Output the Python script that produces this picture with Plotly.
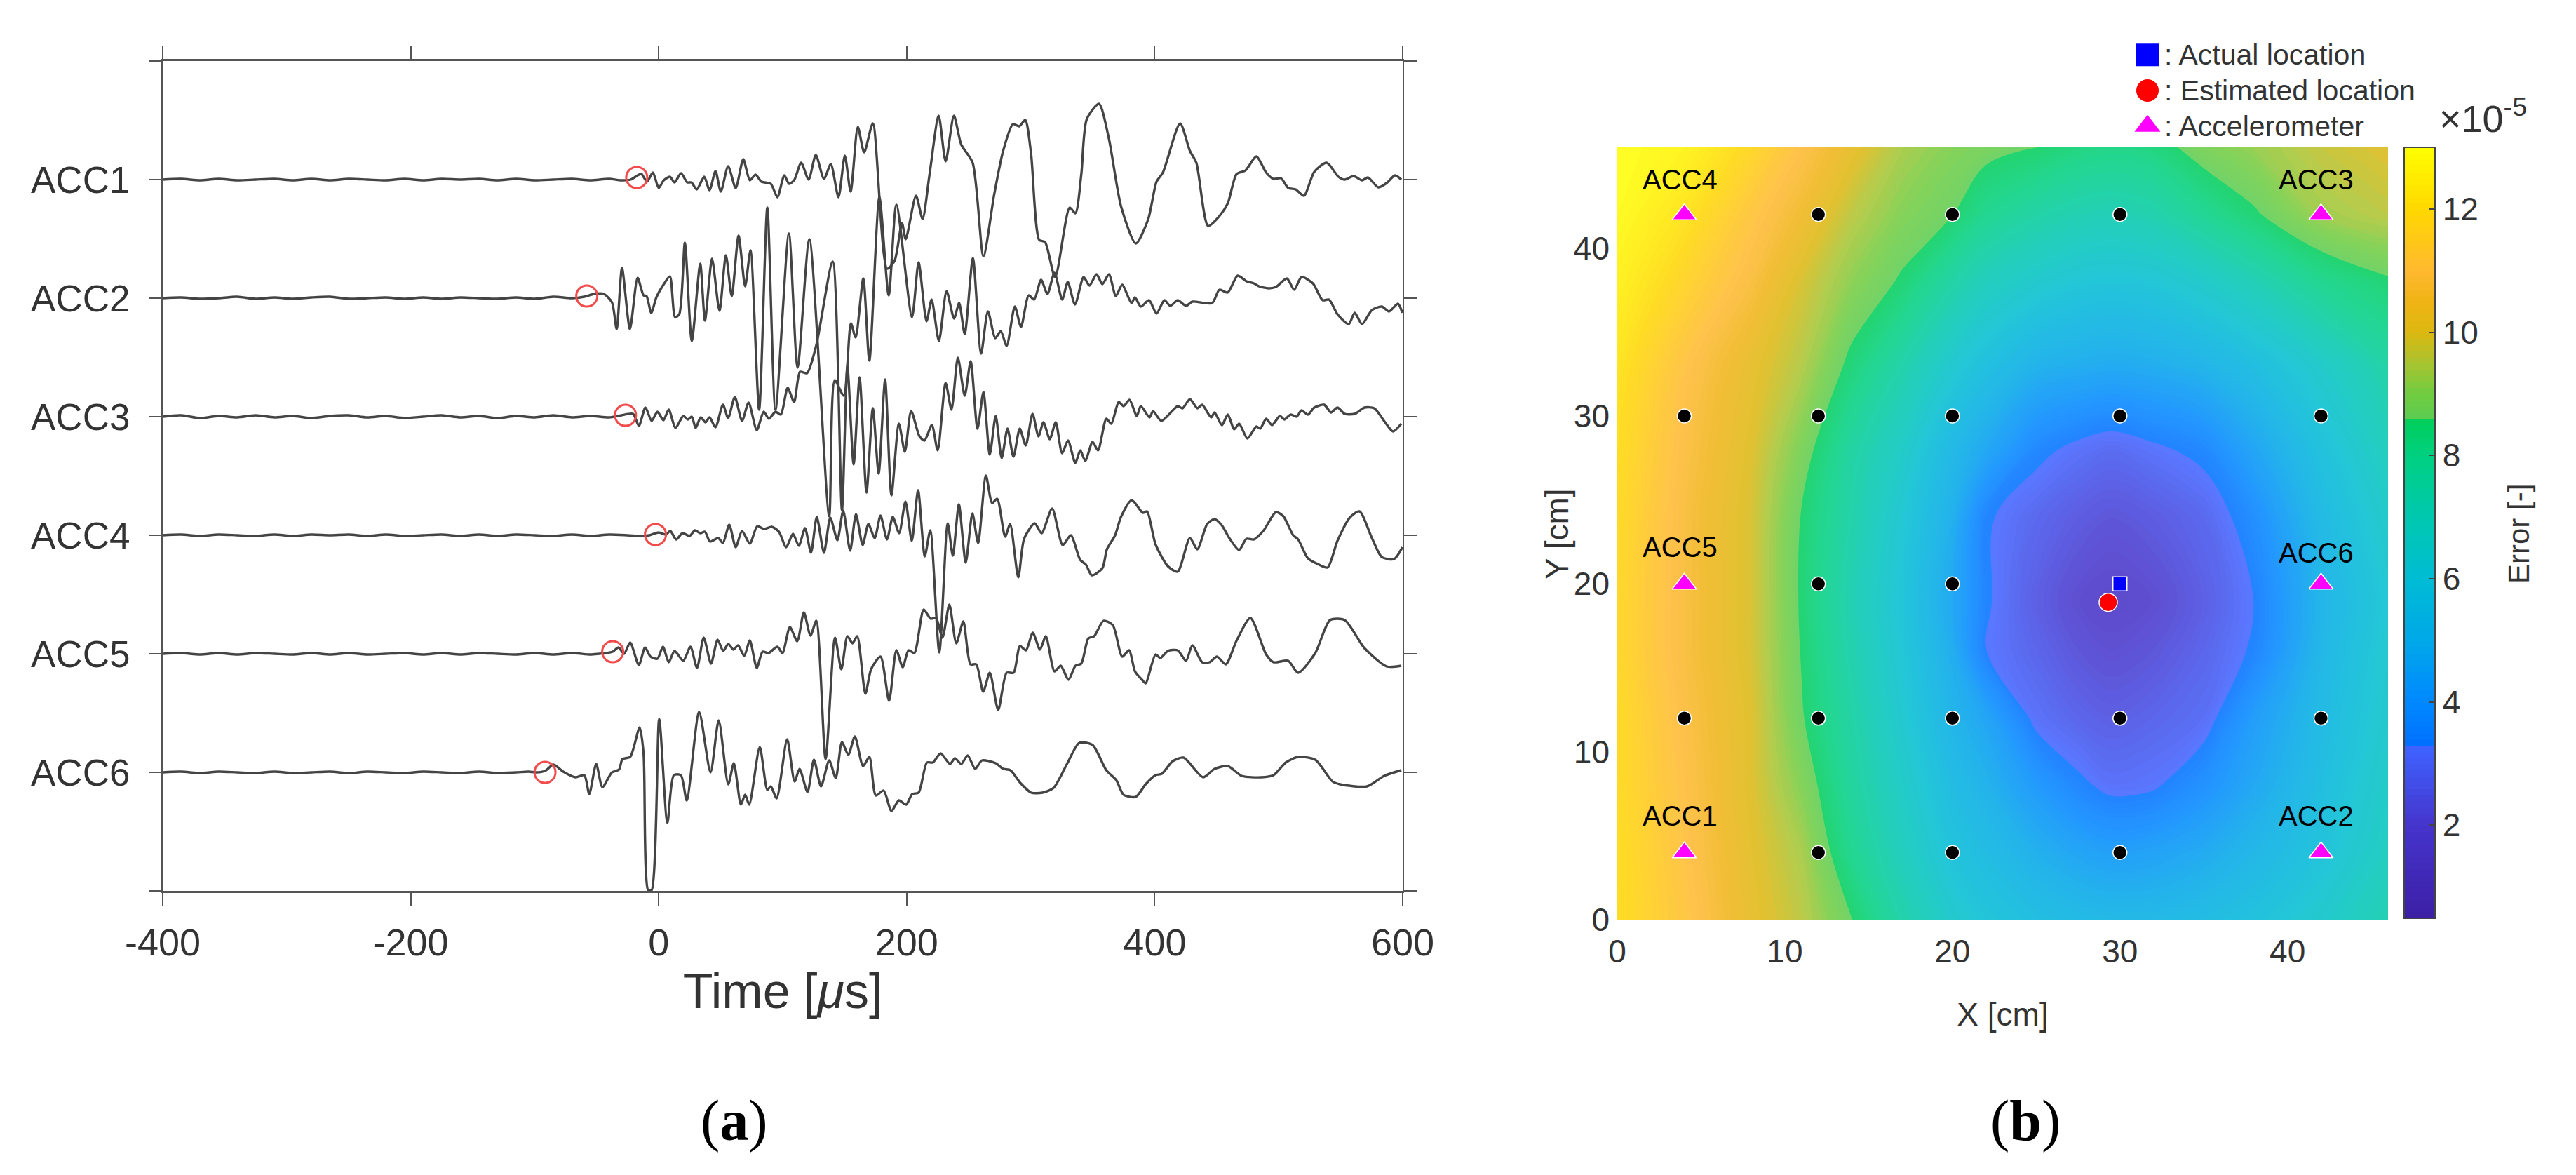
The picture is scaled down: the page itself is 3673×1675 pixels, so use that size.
import numpy as np
import plotly.graph_objects as go

W, H = 3673, 1675

# ---------- Panel (a): waveforms. Time in microseconds, amplitude in arbitrary units
# (trace spacing = 169 units)
sensor_names = ["ACC1", "ACC2", "ACC3", "ACC4", "ACC5", "ACC6"]
trace_offsets = [1014, 845, 676, 507, 338, 169]

acc1_t = [-400,-385,-370,-355,-340,-325,-310,-295,-280,-265,-250,-235,-220,-205,-190,-175,-160,-145,-130,-115,-100,-85,-70,-55,-40,-30,-22.6,-17,-14,-9.4,-4.7,0,4.1,9,12.8,18,23,26.4,30.7,36.7,41,45.8,50.1,56,62.1,68.2,73.5,78.1,82.9,90.4,95.7,101.3,105.1,109.2,114.9,120.9,126.7,133.3,138.8,145,150.1,154.8,160.6,165.7,172.7,184.1,190.2,196.2,199.2,207.5,212.8,218.4,225.8,231.4,238.1,244,253.2,261.9,270.6,277.8,285.7,290.8,295.6,300.3,306.9,311.6,319.7,331.4,336.1,340.8,345.2,355.1,363,373,384.8,394.7,401.5,406.6,420.5,428.4,433.6,443.1,452.2,458.9,466.1,473.2,482,489.9,495.8,501.8,507.7,513.7,520.4,528.7,538.7,548.2,553.3,560.5,567.2,572,580.3,587,593.8,598.9]
acc1_v = [0,1,-1,1,-1,0,1,-1,1,-1,1,0,-1,1,-1,1,0,1,-1,1,-1,0,1,-1,1,-1,0,6,8,-3,10,-12,-1,4,-4,9,-4,-4,-14,4,-15,12,-17,19,-12,29,-1,7,-3,-6,-25,6,-6,-1,24,0,35,1,22,-25,34,-17,75,39,80,-127,-116,-62,-85,-23,-56,7,91,26,91,50,24,-109,-21,41,79,76,85,37,-86,-89,-139,-40,-48,7,86,108,59,-39,-91,-57,-3,10,80,41,24,-66,-52,-34,8,13,33,10,1,2,-12,-14,-23,11,24,4,0,5,-1,3,-11,-5,6,0]

acc2_t = [-400,-385,-370,-355,-340,-325,-310,-295,-280,-265,-250,-235,-220,-205,-190,-175,-160,-145,-130,-115,-100,-85,-70,-60,-52,-44.3,-37.7,-33.9,-29.6,-23.2,-17,-12.2,-9.8,-6,-1.9,3.8,9,13.2,16.6,21.1,26.7,33.5,37.3,43,49,54.2,58.9,64.4,69.7,74,81,87.6,94.2,105,112,121.5,137.5,142,149.2,155,158.8,165,169.9,178,185.5,191.7,204.3,209.6,216,220.1,226,232.2,238.2,242.3,246.8,253.4,260,265.5,271.5,275.9,280.6,287.2,292.2,298.4,302.8,308.4,313.5,319.2,325.4,329.9,335.7,342.7,347.4,353.1,357.8,363.1,368.7,373.8,381.3,384.1,388.8,395.5,401.5,407.8,412.6,418.5,425.3,430.4,446.3,452.2,458.9,466.9,474,480,484,491.9,497.8,506.6,512.5,518.4,527.6,535.5,540.6,547.4,556.5,561.3,567.2,575.2,583.1,589,596.2,599.7]
acc2_v = [0,1,-1,0,2,-1,1,-1,1,2,-1,0,1,-1,1,-1,1,0,-1,1,-1,2,0,2,6,6,-6,-44,43,-44,29,4,3,-21,1,19,31,-27,-23,79,-61,49,-32,56,-18,61,3,89,17,68,-159,129,-159,92,-99,84,-311,-117,-139,-36,-56,28,-89,144,4,133,-27,51,-33,-2,-61,10,-29,-7,-51,57,-79,-19,-57,-47,-68,-12,-41,4,-2,26,6,36,-2,23,-9,30,18,34,20,34,3,19,-7,1,-12,-3,-22,-3,-11,-3,-11,-5,-7,12,8,32,24,21,17,14,16,28,12,30,21,-3,-2,-23,-37,-21,-37,-17,-12,-19,-8,-21]

acc3_t = [-400,-385,-370,-355,-340,-325,-310,-295,-280,-265,-250,-235,-220,-205,-190,-175,-160,-145,-130,-115,-100,-85,-70,-55,-40,-30,-20.7,-16,-10.7,-5.7,-1,3.8,8.1,13.6,19.8,23.5,26.7,29.8,33.9,37.7,41,45.8,51.8,56,61.4,67.2,72.5,79.1,84.7,88.9,94.2,98.5,104,109.2,114,119.6,127.1,140.3,147.8,152.2,157.2,162,167.6,172.7,177.4,182.6,187.7,193.7,198.5,203.6,210.3,214.3,220.3,225,231.4,236.1,241.3,246.8,251.6,257.1,261.9,267,271.8,276.6,281.3,286.1,291.2,296,301.5,306.3,310.3,315.4,320.2,325.3,330.1,336,340,344,349.9,354.3,361,365,371,374.9,379.7,385.6,388.8,395.9,398.7,405.4,418.5,422.5,428.4,434.4,438.3,445.5,448.3,454.2,459,464.1,468.1,474.8,482,485.1,489.9,494.6,501,504.6,509.7,514.5,518.4,523.6,528.7,536.7,542.2,547.4,553.3,561.3,569.2,577.1,585.8,592.2,598.9]
acc3_v = [0,2,-2,1,-1,2,-1,1,-2,1,2,-1,1,-2,0,2,-1,1,-2,1,-1,2,-1,1,-1,2,4,-13,13,-6,7,-5,10,-16,1,-4,0,-16,-1,-8,-1,-15,17,-2,28,-6,20,-19,7,-3,7,3,41,21,64,62,102,221,-133,72,-68,56,-108,12,-81,53,-112,-10,-50,8,-28,-34,-12,-48,48,10,84,30,79,-17,35,-54,1,-59,-17,-57,-17,-41,4,-28,-8,-32,-8,-52,-34,-66,-48,-63,-36,-48,-3,-10,21,15,24,1,15,-1,8,-6,15,12,25,12,17,-1,6,-12,3,-18,-10,-31,-14,-17,-3,-12,1,-4,3,0,9,3,13,17,6,13,4,4,13,12,-8,-21,-10]

acc4_t = [-400,-385,-370,-355,-340,-325,-310,-295,-280,-265,-250,-235,-220,-205,-190,-175,-160,-145,-130,-115,-100,-85,-70,-55,-40,-25,-15,-7.5,0,5.6,9.4,14.1,19.2,24.9,29.2,33.5,37.3,41.4,48,51.8,56.9,62.1,67.2,73.5,79.5,84.7,91.3,97,102.8,108.3,113,118,122.8,127.5,133.3,138.4,144.1,148.8,154.4,159.1,164.5,169.1,174.2,178.9,184.1,188.8,193.9,199,204.1,209.2,214.6,219,226.3,233.1,237.2,242.1,247.6,253,257.6,263.9,268.9,273,279.4,283.4,290,294.7,303.2,308.8,317.3,325.8,332.4,339.9,344.6,349.3,357.8,361.5,368.1,372.8,381.5,390.5,393.9,400.7,410.6,418.5,428.4,434.4,442.3,448.3,454.2,460.2,468.1,474,480,487.9,497.8,503.8,511.7,515.7,523.6,531.5,539.4,547.4,557.3,565.2,575.2,583.1,593,599.8]
acc4_v = [0,1,-1,1,0,-1,1,-1,1,0,1,-1,1,-1,0,1,-1,1,-1,1,0,-1,1,-1,1,0,-1,0,4,1,6,-6,3,-1,7,3,5,-9,-4,-11,15,-17,6,-12,13,9,12,5,-17,2,-15,10,-25,26,-25,25,-7,35,-22,30,-14,16,-4,28,-6,26,3,48,-8,64,-30,7,-167,17,-29,44,-39,31,-11,85,46,52,-2,16,-60,-5,17,3,38,-14,0,-35,-42,-57,-47,-20,0,26,50,32,34,-13,-44,-52,-4,-20,16,23,14,-4,-21,-5,-6,7,33,27,0,-6,-33,-41,-46,-8,25,34,-4,-31,-34,-17]

acc5_t = [-400,-385,-370,-355,-340,-325,-310,-295,-280,-265,-250,-235,-220,-205,-190,-175,-160,-145,-130,-115,-100,-85,-70,-55,-48,-42.4,-37.1,-32.4,-27.9,-23,-16,-11,-6.6,-1,3.4,8.1,12.8,19.8,25.6,30.9,36.3,42.2,47.5,52,56.1,60.3,64,69,73.5,79.1,83.8,88.5,95.7,99.8,105.8,111.7,117.1,122.4,127.1,134.6,142.2,147.3,152.2,156.3,160.1,166.7,171.3,178.9,185.8,191.7,196.8,201.5,206.2,213.7,219.4,223.7,228.8,234.4,240,245.7,251.4,256.1,261.7,267,273.8,280.6,286.2,291.3,296.2,301.7,307.5,312.2,319.2,324.2,330.5,336.1,340.8,346.5,351.2,358.7,366.2,373.8,379.4,384.1,389.8,392.7,400.7,404.6,410.6,418.5,425.3,430.4,438.3,444.3,450.2,457.4,466.1,477.2,489.9,495.8,507.7,515.7,529.5,541.4,553.3,569.2,587,598.9]
acc5_v = [0,1,-1,1,-1,1,0,-1,1,-1,1,-1,0,1,-1,1,-1,1,0,-1,1,-1,1,-1,0,1,3,9,0,16,-16,9,-4,-7,10,-12,4,-10,10,-20,23,-14,20,4,14,6,12,-3,19,-20,3,1,10,1,38,18,59,26,47,-150,23,-22,25,15,25,-57,-22,-4,-67,5,-19,5,1,63,50,51,23,70,15,46,-15,-15,-54,-27,-80,-27,-27,11,5,30,6,25,-25,-17,-37,-17,-14,22,25,47,41,-4,5,-25,-37,-42,-1,-6,4,5,-10,12,-12,-12,-4,-15,19,51,-1,-12,-10,-27,1,48,48,8,-18,-17]

acc6_t = [-400,-385,-370,-355,-340,-325,-310,-295,-280,-265,-250,-235,-220,-205,-190,-175,-160,-145,-130,-115,-105,-98.8,-91.7,-84.9,-77,-67.1,-60,-56,-50.4,-45.4,-37.7,-32,-29.2,-23,-15.4,-12.2,-8.5,-5.7,0.4,7,12.2,17.9,22.6,32.6,41.8,48.4,56.1,60.6,66.3,69.7,73,81.5,87.6,90.4,95.1,103.6,109.6,113.6,120,125.2,130.9,137.5,142.8,147.8,152.9,158.2,164.8,169.9,175.1,181.4,187.7,193.7,199.6,204.4,209.6,216.3,221,227.4,234.9,238.9,244,249.2,255.2,260.7,271.8,277.8,283.7,291.6,300.4,309.5,318.6,329.3,339.2,349.9,361,369,374.9,384.8,392.7,400.7,405.8,414.6,423.3,439.1,448.3,459,470.1,485.9,495.8,505.7,515.7,529.5,543.4,549.4,571.2,585.1,598.9]
acc6_v = [0,1,-1,1,0,-1,1,-1,0,1,-1,1,0,-1,1,0,-1,1,-1,0,1,0,2,11,1,-7,-4,-31,12,-21,0,4,19,22,64,27,-168,-168,76,-72,-4,-4,-40,86,0,74,-17,13,-46,-32,-46,36,-25,-20,-37,47,-13,5,-28,18,-20,17,-8,43,25,51,9,22,-33,-26,-55,-40,-46,-31,-29,14,14,27,12,20,12,24,5,17,13,5,3,-15,-29,-29,-22,12,42,39,3,-11,-32,-35,-17,-4,-2,16,21,-7,5,9,-5,-7,-4,14,22,18,-13,-17,-20,-5,3]

series_t = [acc1_t, acc2_t, acc3_t, acc4_t, acc5_t, acc6_t]
series_v = [acc1_v, acc2_v, acc3_v, acc4_v, acc5_v, acc6_v]

onset_t = [-17.7, -58, -26.8, -2.6, -37.1, -91.7]
onset_v = [3, 3, 2, 1, 3, 0]

time_ticks = [-400, -200, 0, 200, 400, 600]

# ---------- Panel (b): error map, Error in units of 1e-5
grid_x = [0, 4, 8, 11, 14, 17, 20, 22, 25, 27.5, 29.5, 32, 35, 38, 42, 46]
grid_y = [0, 4, 8, 12, 16, 19, 24, 28, 33, 38, 42, 46]
error_z = [
    [12.0,11.2,10.2, 9.6, 8.6, 7.4, 6.4, 6.0, 5.6, 5.4, 5.3, 5.3, 5.5, 5.8, 6.4, 7.2],
    [12.0,11.1,10.1, 9.4, 8.0, 6.9, 5.9, 5.5, 4.9, 4.5, 4.3, 4.4, 4.7, 5.2, 5.9, 6.8],
    [11.9,11.0,10.0, 9.0, 7.7, 6.6, 5.5, 5.0, 4.1,3.45, 3.1, 3.2, 3.8, 4.6, 5.6, 6.6],
    [11.9,10.9,10.0,8.65, 7.5, 6.3, 5.1, 4.5, 3.1, 2.7, 2.5, 2.7, 3.0, 4.2, 5.4, 6.4],
    [11.8,10.8, 9.9,8.55, 7.3, 6.1, 4.8, 3.3, 2.7, 2.2, 2.0, 2.2, 2.7, 3.4, 5.2, 6.3],
    [11.8,10.8, 9.9, 8.5, 7.2, 6.0, 4.6, 3.4, 2.5, 1.9, 1.7, 1.9, 2.5, 3.3, 5.1, 6.2],
    [11.9,10.8, 9.9,8.55, 7.4, 6.2, 4.9, 3.4, 2.8, 2.4, 2.2, 2.4, 2.8, 3.7, 5.4, 6.5],
    [12.0,10.9,10.0, 8.9, 7.6, 6.6, 5.3, 4.6, 3.5, 3.1, 2.9,3.15, 3.5, 4.5, 5.8, 6.9],
    [12.2,11.1,10.2, 9.5, 8.4, 7.4, 6.3, 5.7, 5.0, 4.8, 4.7, 4.8, 5.1, 5.6, 6.5, 7.5],
    [12.6,11.7,10.8, 9.9, 9.1, 8.5, 7.5, 6.9, 6.4, 6.1, 6.0, 6.1, 6.5, 7.1, 8.0, 8.5],
    [12.9,12.2,11.2,10.5, 9.6, 9.0, 8.6, 8.0, 7.5, 7.2, 7.1, 7.3, 7.9, 8.5, 9.3, 9.6],
    [13.0,12.7,11.8,11.0,10.2, 9.4, 9.0, 8.8, 8.6, 8.3, 8.2, 8.3, 8.9, 9.2, 9.7,10.0],
]
z_min, z_max = 0.49, 13.0
scale_values = [0.49, 2, 3.25, 3.3, 4, 5, 6, 7, 8, 8.55, 8.6, 9, 9.5, 10, 10.5, 11, 12, 13]
scale_colors = ["#3c1fa5", "#4534cc", "#3f62ff", "#0070ff", "#0088ff", "#00a8e8", "#00bcd4",
                "#00c8b0", "#00d080", "#00cf5c", "#5ccc50", "#70cc40", "#a8c430", "#dcb810",
                "#f0b414", "#ffb830", "#ffd800", "#ffff00"]

dots_x = [12, 20, 30, 4, 12, 20, 30, 42, 12, 20, 4, 12, 20, 30, 42, 12, 20, 30]
dots_y = [42, 42, 42, 30, 30, 30, 30, 30, 20, 20, 12, 12, 12, 12, 12, 4, 4, 4]
accel_x = [4, 42, 4, 42, 4, 42]
accel_y = [42, 42, 20, 20, 4, 4]
accel_names = ["ACC4", "ACC3", "ACC5", "ACC6", "ACC1", "ACC2"]
accel_label_y = [44.06, 44.06, 22.2, 21.85, 6.2, 6.2]
actual_x, actual_y = [30], [20]
estimated_x, estimated_y = [29.3], [18.9]

key_labels = [": Actual location", ": Estimated location", ": Accelerometer"]
key_symbols = ["square", "circle", "triangle-up"]
key_colors = ["#0000ff", "#ff0000", "#ff00ff"]
key_rows = [2.5, 1.5, 0.5]


def fx(px):
    return px / W


def fy(py):
    return 1 - py / H


INK = "#333333"
LINE = "#555555"
SANS = "Liberation Sans, Arial, sans-serif"
SERIF = "Liberation Serif, Times New Roman, serif"

fig = go.Figure()

# Waveforms
for off, t, v in zip(trace_offsets, series_t, series_v):
    fig.add_trace(go.Scatter(
        x=t, y=np.array(v, dtype=float) + off, mode="lines", xaxis="x", yaxis="y",
        line=dict(color="#444444", width=3.4, shape="spline", smoothing=0.7),
        showlegend=False, hoverinfo="skip"))

fig.add_trace(go.Scatter(
    x=onset_t, y=np.array(onset_v, dtype=float) + np.array(trace_offsets), mode="markers",
    xaxis="x", yaxis="y",
    marker=dict(symbol="circle-open", size=30, color="#f24b4b", line=dict(width=3, color="#f24b4b")),
    showlegend=False, hoverinfo="skip"))

# Error map
fig.add_trace(go.Contour(
    x=grid_x, y=grid_y, z=error_z, xaxis="x2", yaxis="y2", opacity=0.86,
    zmin=z_min, zmax=z_max, autocontour=False,
    contours=dict(start=z_min, end=z_max, size=0.1, coloring="fill", showlines=False),
    line=dict(width=0, smoothing=1.0),
    colorscale=[[(val - z_min) / (z_max - z_min), col] for val, col in zip(scale_values, scale_colors)],
    colorbar=dict(
        x=fx(3428), xanchor="left", xpad=0, y=fy(1309), yanchor="bottom", ypad=0,
        len=1099 / H, lenmode="fraction", thickness=44, thicknessmode="pixels",
        tickvals=[2, 4, 6, 8, 10, 12], ticks="inside", ticklen=10, tickwidth=2, tickcolor="#444444",
        tickprefix="  ", outlinecolor="#444444", outlinewidth=2,
        tickfont=dict(family=SANS, size=46, color=INK)),
    hoverinfo="skip", showscale=True))

fig.add_trace(go.Scatter(
    x=dots_x, y=dots_y, mode="markers", xaxis="x2", yaxis="y2",
    marker=dict(symbol="circle", size=20, color="black", line=dict(width=1.5, color="white")),
    showlegend=False, hoverinfo="skip"))
fig.add_trace(go.Scatter(
    x=accel_x, y=accel_y, mode="markers", xaxis="x2", yaxis="y2",
    marker=dict(symbol="triangle-up", size=30, color="#ff00ff", line=dict(width=1.5, color="white")),
    showlegend=False, hoverinfo="skip"))
fig.add_trace(go.Scatter(
    x=actual_x, y=actual_y, mode="markers", xaxis="x2", yaxis="y2",
    marker=dict(symbol="square", size=20, color="#0000ff", line=dict(width=1.5, color="white")),
    showlegend=False, hoverinfo="skip"))
fig.add_trace(go.Scatter(
    x=estimated_x, y=estimated_y, mode="markers", xaxis="x2", yaxis="y2",
    marker=dict(symbol="circle", size=26, color="#ff0000", line=dict(width=1.5, color="white")),
    showlegend=False, hoverinfo="skip"))

# Key above the map, on its own small hidden axes
for sym, col, row in zip(key_symbols, key_colors, key_rows):
    fig.add_trace(go.Scatter(
        x=[0.5], y=[row], mode="markers", xaxis="x3", yaxis="y3",
        marker=dict(symbol=sym, size=32, color=col),
        showlegend=False, hoverinfo="skip"))

annotations = []
for name, xv, yv in zip(accel_names, accel_x, accel_label_y):
    annotations.append(dict(x=xv - 0.27, y=yv, xref="x2", yref="y2", text=name, showarrow=False,
                            font=dict(family=SANS, size=40, color="black")))

for label, py in zip(key_labels, [78, 129, 180]):
    annotations.append(dict(x=fx(3084), y=fy(py), xref="paper", yref="paper", xanchor="left",
                            yanchor="middle", text=label, showarrow=False,
                            font=dict(family=SANS, size=41, color=INK)))

annotations += [
    dict(x=fx(3540), y=fy(165), xref="paper", yref="paper", xanchor="center", yanchor="middle",
         text="×10<sup>-5</sup>", showarrow=False, font=dict(family=SANS, size=54, color=INK)),
    dict(x=fx(3591), y=fy(761), xref="paper", yref="paper", xanchor="center", yanchor="middle",
         text="Error [-]", textangle=-90, showarrow=False, font=dict(family=SANS, size=42, color=INK)),
    dict(x=fx(2220), y=fy(761), xref="paper", yref="paper", xanchor="center", yanchor="middle",
         text="Y [cm]", textangle=-90, showarrow=False, font=dict(family=SANS, size=46, color=INK)),
    dict(x=fx(1047), y=fy(1597), xref="paper", yref="paper", xanchor="center", yanchor="middle",
         text="(<b>a</b>)", showarrow=False, font=dict(family=SERIF, size=82, color="black")),
    dict(x=fx(2888), y=fy(1597), xref="paper", yref="paper", xanchor="center", yanchor="middle",
         text="(<b>b</b>)", showarrow=False, font=dict(family=SERIF, size=82, color="black")),
]

fig.update_layout(
    width=W, height=H, autosize=False, margin=dict(l=0, r=0, t=0, b=0, autoexpand=False),
    paper_bgcolor="white", plot_bgcolor="white", showlegend=False,
    annotations=annotations,
    xaxis=dict(
        domain=[fx(232), fx(2000)], range=[-400, 600], anchor="y",
        tickmode="array", tickvals=time_ticks, ticktext=[str(v) for v in time_ticks],
        ticks="outside", ticklen=18, tickwidth=2, tickcolor=LINE, ticklabelstandoff=6,
        showline=True, linecolor=LINE, linewidth=3, mirror="allticks", showgrid=False, zeroline=False,
        tickfont=dict(family=SANS, size=54, color=INK),
        title=dict(text="Time [<i>μ</i>s]", standoff=17, font=dict(family=SANS, size=70, color=INK))),
    yaxis=dict(
        domain=[fy(1270), fy(87)], range=[0, 1183], anchor="x",
        tickmode="array", tickvals=trace_offsets[::-1], ticktext=sensor_names[::-1],
        ticks="outside", ticklen=18, tickwidth=2, tickcolor=LINE, ticklabelstandoff=16,
        minor=dict(tickmode="array", tickvals=[0, 1183], ticks="outside", ticklen=18, tickwidth=3, tickcolor=LINE),
        showline=True, linecolor=LINE, linewidth=2, mirror="allticks", showgrid=False, zeroline=False,
        tickfont=dict(family=SANS, size=53, color=INK)),
    xaxis2=dict(
        domain=[fx(2306), fx(3405)], range=[0, 46], anchor="y2",
        tickvals=[0, 10, 20, 30, 40], ticks="", showline=False, showgrid=False, zeroline=False,
        ticklabelstandoff=14,
        tickfont=dict(family=SANS, size=46, color=INK),
        title=dict(text="X [cm]", standoff=48, font=dict(family=SANS, size=46, color=INK))),
    yaxis2=dict(
        domain=[fy(1311), fy(210)], range=[0, 46], anchor="x2",
        tickvals=[0, 10, 20, 30, 40], ticks="", showline=False, showgrid=False, zeroline=False,
        ticklabelstandoff=10,
        tickfont=dict(family=SANS, size=46, color=INK)),
    xaxis3=dict(domain=[fx(3040), fx(3084)], range=[0, 1], anchor="y3", visible=False),
    yaxis3=dict(domain=[fy(205), fy(53)], range=[0, 3], anchor="x3", visible=False),
)

fig.write_html("out.html", config=dict(displayModeBar=False),
               post_script="document.body.style.margin='0';")
